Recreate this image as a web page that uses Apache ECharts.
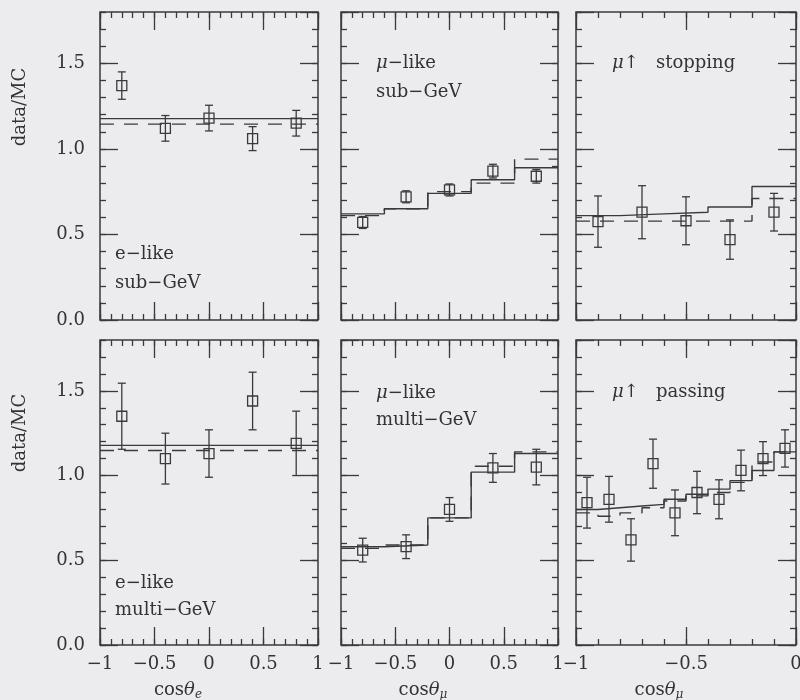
<!DOCTYPE html>
<html>
<head>
<meta charset="utf-8">
<script src="https://cdn.jsdelivr.net/npm/echarts@6/dist/echarts.min.js"></script>
<style>
html, body { margin: 0; padding: 0; background: #ecebee; }
#chart { width: 800px; height: 700px; }
</style>
</head>
<body>
<div id="chart"></div>
<script>
// bin edges
var edgesFull = [-1, -0.6, -0.2, 0.2, 0.6, 1];
var edgesStop = [-1, -0.8, -0.6, -0.4, -0.2, 0];
var edgesPass = [-1, -0.9, -0.8, -0.7, -0.6, -0.5, -0.4, -0.3, -0.2, -0.1, 0];

// point positions
var xFull = [-0.8, -0.4, 0, 0.4, 0.8];
var xStop = [-0.9, -0.7, -0.5, -0.3, -0.1];
var xPass = [-0.95, -0.85, -0.75, -0.65, -0.55, -0.45, -0.35, -0.25, -0.15, -0.05];

// e-like sub-GeV
var eSubY = [1.37, 1.12, 1.18, 1.06, 1.15];
var eSubErr = [0.08, 0.075, 0.075, 0.07, 0.075];
var eSubMC = [1.177, 1.177, 1.177, 1.177, 1.177];
var eSubMCd = [1.145, 1.145, 1.145, 1.145, 1.145];

// mu-like sub-GeV
var muSubY = [0.57, 0.72, 0.76, 0.87, 0.84];
var muSubErr = [0.035, 0.035, 0.035, 0.04, 0.04];
var muSubMC = [0.62, 0.65, 0.74, 0.82, 0.89];
var muSubMCd = [0.61, 0.65, 0.75, 0.80, 0.94];

// upward mu stopping
var stopY = [0.575, 0.63, 0.58, 0.47, 0.63];
var stopErr = [0.15, 0.155, 0.14, 0.115, 0.11];
var stopMC = [0.61, 0.62, 0.63, 0.66, 0.78];
var stopMCd = [0.578, 0.578, 0.578, 0.578, 0.71];

// e-like multi-GeV
var eMulY = [1.35, 1.10, 1.13, 1.44, 1.19];
var eMulErr = [0.195, 0.15, 0.14, 0.17, 0.19];
var eMulMC = [1.178, 1.178, 1.178, 1.178, 1.178];
var eMulMCd = [1.148, 1.148, 1.148, 1.148, 1.148];

// mu-like multi-GeV
var muMulY = [0.56, 0.58, 0.80, 1.045, 1.05];
var muMulErr = [0.07, 0.07, 0.07, 0.085, 0.105];
var muMulMC = [0.58, 0.59, 0.75, 1.02, 1.13];
var muMulMCd = [0.57, 0.59, 0.75, 1.055, 1.14];

// upward mu passing
var passY = [0.84, 0.86, 0.62, 1.07, 0.78, 0.90, 0.86, 1.03, 1.10, 1.16];
var passErr = [0.15, 0.135, 0.125, 0.145, 0.135, 0.125, 0.115, 0.12, 0.10, 0.11];
var passMC = [0.80, 0.81, 0.82, 0.83, 0.86, 0.89, 0.92, 0.97, 1.03, 1.14];
var passMCd = [0.78, 0.76, 0.78, 0.81, 0.85, 0.88, 0.90, 0.96, 1.08, 1.14];

var ink = '#3a3a3c';
var font = 'DejaVu Serif';

var cols = [[100, 218], [341, 217], [576, 220]];
var rows = [[12, 308], [340, 305]];

var panels = [
  { x: xFull, y: eSubY, err: eSubErr, edges: edgesFull, mc: eSubMC, mcd: eSubMCd, xmin: -1, xmax: 1 },
  { x: xFull, y: muSubY, err: muSubErr, edges: edgesFull, mc: muSubMC, mcd: muSubMCd, xmin: -1, xmax: 1 },
  { x: xStop, y: stopY, err: stopErr, edges: edgesStop, mc: stopMC, mcd: stopMCd, xmin: -1, xmax: 0 },
  { x: xFull, y: eMulY, err: eMulErr, edges: edgesFull, mc: eMulMC, mcd: eMulMCd, xmin: -1, xmax: 1 },
  { x: xFull, y: muMulY, err: muMulErr, edges: edgesFull, mc: muMulMC, mcd: muMulMCd, xmin: -1, xmax: 1 },
  { x: xPass, y: passY, err: passErr, edges: edgesPass, mc: passMC, mcd: passMCd, xmin: -1, xmax: 0 }
];

function stepData(edges, vals) {
  var d = [];
  for (var i = 0; i < vals.length; i++) d.push([edges[i], vals[i]]);
  d.push([edges[vals.length], vals[vals.length - 1]]);
  return d;
}

function renderErr(params, api) {
  var x = api.value(0), y = api.value(1), e = api.value(2);
  var c = api.coord([x, y]);
  var hi = api.coord([x, y + e]);
  var lo = api.coord([x, y - e]);
  var s = { stroke: ink, lineWidth: 1.3, fill: null };
  return {
    type: 'group',
    children: [
      { type: 'line', shape: { x1: c[0], y1: hi[1], x2: c[0], y2: lo[1] }, style: s },
      { type: 'line', shape: { x1: c[0] - 4, y1: hi[1], x2: c[0] + 4, y2: hi[1] }, style: s },
      { type: 'line', shape: { x1: c[0] - 4, y1: lo[1], x2: c[0] + 4, y2: lo[1] }, style: s },
      { type: 'rect', shape: { x: c[0] - 5, y: c[1] - 5, width: 10, height: 10 },
        style: { stroke: ink, lineWidth: 1.3, fill: 'transparent' } }
    ]
  };
}

var grids = [], xAxes = [], yAxes = [], series = [];

panels.forEach(function (p, g) {
  var row = Math.floor(g / 3), col = g % 3;
  grids.push({
    left: cols[col][0], width: cols[col][1], top: rows[row][0], height: rows[row][1],
    show: true, borderColor: ink, borderWidth: 1.5, backgroundColor: 'transparent',
    outerBoundsMode: 'none'
  });

  // x axes: minor/major on bottom and top
  ['bottom', 'top'].forEach(function (pos) {
    [0.1, 0.5].forEach(function (iv) {
      var labels = pos === 'bottom' && iv === 0.5 && row === 1;
      xAxes.push({
        gridIndex: g, type: 'value', position: pos, min: p.xmin, max: p.xmax, interval: iv,
        axisLine: { show: false, onZero: false }, splitLine: { show: false },
        axisTick: { inside: true, length: iv === 0.5 ? 18 : 6, lineStyle: { color: ink, width: 1.3 } },
        axisLabel: {
          show: labels, margin: 10, color: '#333', fontFamily: font, fontSize: 18,
          formatter: function (v) { return (v < 0 ? '\u2212' : '') + Math.abs(v); }
        }
      });
    });
  });

  // y axes: minor/major on left and right
  ['left', 'right'].forEach(function (pos) {
    [0.1, 0.5].forEach(function (iv) {
      var labels = pos === 'left' && iv === 0.5 && col === 0;
      yAxes.push({
        gridIndex: g, type: 'value', position: pos, min: 0, max: 1.8, interval: iv,
        axisLine: { show: false, onZero: false }, splitLine: { show: false },
        axisTick: { inside: true, length: iv === 0.5 ? 18 : 6, lineStyle: { color: ink, width: 1.3 } },
        axisLabel: {
          show: labels, margin: 15, color: '#333', fontFamily: font, fontSize: 18,
          showMaxLabel: false,
          formatter: function (v) { return v.toFixed(1); }
        }
      });
    });
  });

  var xi = g * 4, yi = g * 4;
  series.push({
    type: 'line', xAxisIndex: xi, yAxisIndex: yi, step: 'end', symbol: 'none', silent: true,
    data: stepData(p.edges, p.mc), lineStyle: { color: ink, width: 1.4 }
  });
  series.push({
    type: 'line', xAxisIndex: xi, yAxisIndex: yi, step: 'end', symbol: 'none', silent: true,
    data: stepData(p.edges, p.mcd), lineStyle: { color: ink, width: 1.4, type: [14, 10] }
  });
  series.push({
    type: 'custom', xAxisIndex: xi, yAxisIndex: yi, renderItem: renderErr, silent: true,
    encode: { x: 0, y: 1 },
    data: p.x.map(function (x, i) { return [x, p.y[i], p.err[i]]; })
  });
});

var txt = { fill: '#333', font: '18px "DejaVu Serif"', rich: {
  i: { fontFamily: font, fontSize: 18, fontStyle: 'italic', fill: '#333' },
  sub: { fontFamily: font, fontSize: 12, fontStyle: 'italic', fill: '#333', padding: [10, 0, 0, 0] }
} };
function label(x, y, text, extra) {
  var st = Object.assign({}, txt, { text: text, verticalAlign: 'middle' }, extra || {});
  return { type: 'text', x: x, y: y, style: st };
}

var graphics = [
  label(115, 254, 'e\u2212like'), label(115, 283, 'sub\u2212GeV'),
  label(376, 63, '{i|\u03bc}\u2212like'), label(376, 92, 'sub\u2212GeV'),
  label(612, 63, '{i|\u03bc}\u2191   stopping'),
  label(115, 583, 'e\u2212like'), label(115, 610, 'multi\u2212GeV'),
  label(376, 393, '{i|\u03bc}\u2212like'), label(376, 420, 'multi\u2212GeV'),
  label(612, 392, '{i|\u03bc}\u2191   passing'),
  label(178, 690, 'cos{i|\u03b8}{sub|e}', { align: 'center' }),
  label(423, 690, 'cos{i|\u03b8}{sub|\u03bc}', { align: 'center' }),
  label(659, 690, 'cos{i|\u03b8}{sub|\u03bc}', { align: 'center' }),
  { type: 'text', x: 20, y: 107, rotation: Math.PI / 2,
    style: Object.assign({}, txt, { text: 'data/MC', align: 'center', verticalAlign: 'middle' }) },
  { type: 'text', x: 20, y: 433, rotation: Math.PI / 2,
    style: Object.assign({}, txt, { text: 'data/MC', align: 'center', verticalAlign: 'middle' }) }
];

var chart = echarts.init(document.getElementById('chart'));
chart.setOption({
  backgroundColor: '#ecebee',
  animation: false,
  grid: grids,
  xAxis: xAxes,
  yAxis: yAxes,
  series: series,
  graphic: graphics
});
</script>
</body>
</html>
